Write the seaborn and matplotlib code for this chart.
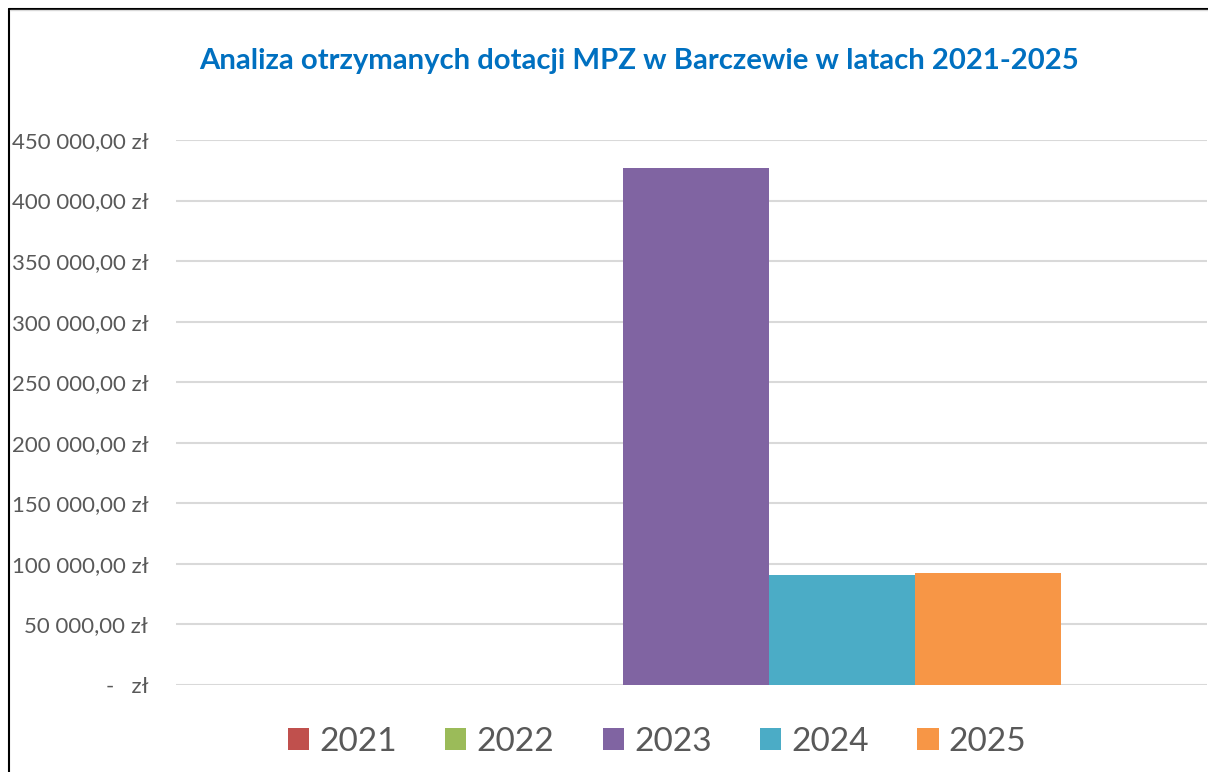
import matplotlib
matplotlib.use("Agg")
import matplotlib.pyplot as plt
import seaborn as sns
import pandas as pd
from matplotlib.lines import Line2D
from matplotlib.ticker import FuncFormatter, MultipleLocator

years = ["2021", "2022", "2023", "2024", "2025"]
values = [0, 0, 426600, 90800, 92500]
colors = ["#C0504D", "#9BBB59", "#8064A2", "#4BACC6", "#F79646"]
title = "Analiza otrzymanych dotacji MPZ w Barczewie w latach 2021-2025"

df = pd.DataFrame({"grp": [""] * len(years), "year": years, "value": values})

sns.set_theme(style="white")
plt.rcParams["font.family"] = ["Lato", "DejaVu Sans"]

W, H = 1208, 772
fig = plt.figure(figsize=(W / 100, H / 100), dpi=100)
ax = fig.add_axes([176 / W, 1 - 685 / H, (1207 - 176) / W, (685 - 140) / H])

sns.barplot(data=df, x="grp", y="value", hue="year", hue_order=years,
            palette=colors, saturation=1, width=5 / 7, ax=ax, legend=True,
            linewidth=0)

ax.set_xlim(-0.5 - 9 / 1022, 0.5)
ax.set_ylim(0, 450000)
ax.yaxis.set_major_locator(MultipleLocator(50000))

def fmt(v, pos):
    if abs(v) < 1e-6:
        return "-   zł"
    s = f"{v:,.2f}".replace(",", " ").replace(".", ",")
    return s + " zł"

ax.yaxis.set_major_formatter(FuncFormatter(fmt))
ax.grid(axis="y", color="#D9D9D9", linewidth=1.5)
ax.set_axisbelow(True)
for s in ax.spines.values():
    s.set_visible(False)
ax.set_xlabel("")
ax.set_ylabel("")
ax.set_xticks([])
ax.tick_params(axis="y", length=0, pad=20, labelsize=16, labelcolor="#595959")

handles, labels = ax.get_legend_handles_labels()
ax.legend_.remove()
leg = fig.legend(handles, labels, loc="center", bbox_to_anchor=(657 / W, 1 - 742 / H),
                 ncol=5, frameon=False, fontsize=24, handlelength=0.64,
                 handleheight=0.64, handletextpad=0.3, columnspacing=1.45)
for t in leg.get_texts():
    t.set_color("#595959")

fig.text(639 / W, 1 - 61 / H, title, ha="center", va="center",
         fontsize=21.1, fontweight="bold", color="#0070C0")

fig.add_artist(Line2D([8.5 / W, 8.5 / W], [0, 1 - 8.5 / H], color="black",
                      linewidth=1.5, transform=fig.transFigure))
fig.add_artist(Line2D([8.5 / W, 1], [1 - 8.5 / H, 1 - 8.5 / H], color="black",
                      linewidth=1.5, transform=fig.transFigure))
fig.add_artist(Line2D([9.5 / W, 1], [1 - 10 / H, 1 - 10 / H], color="#D9D9D9",
                      linewidth=1, transform=fig.transFigure))

fig.savefig("out.png", dpi=100)
